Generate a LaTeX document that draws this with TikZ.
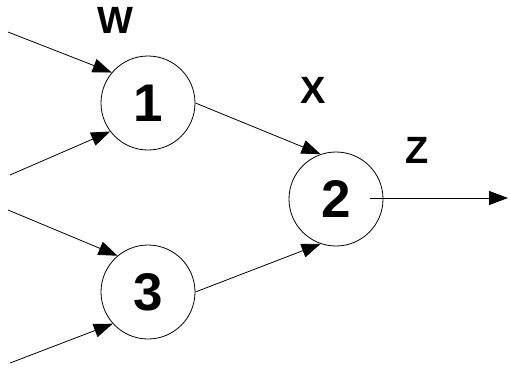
\documentclass[tikz,border=0pt]{standalone}
\usepackage{fontspec}
\setmainfont{Liberation Sans}
\usetikzlibrary{arrows.meta}

\tikzset{
  unit/.style={draw,circle,minimum size=94pt,inner sep=0pt,line width=.8pt,
    font=\fontsize{53}{55}\selectfont\bfseries},
  lbl/.style={font=\fontsize{38}{40}\selectfont\bfseries},
  wire/.style={line width=.8pt,-{Triangle[length=19pt,width=14pt]}}
}

\begin{document}
\begin{tikzpicture}[x=1pt,y=-1pt]
\useasboundingbox (0,0) rectangle (510,369);
% units
\node[unit] (n1) at (148,103) {1};
\node[unit] (n2) at (336,199) {2};
\node[unit] (n3) at (148,292) {3};
% free ends
\coordinate (a1) at (8,32);
\coordinate (a2) at (10,175);
\coordinate (b1) at (8,210);
\coordinate (b2) at (10,363);
\coordinate (zs) at (370,198);
\coordinate (zo) at (508,198);
% inputs
\draw[wire] (a1) -- (n1.140);
\draw[wire] (a2) -- (n1.217);
\draw[wire] (b1) -- (n3.130);
\draw[wire] (b2) -- (n3.222);
% hidden to output
\draw[wire] (n1.0) -- (n2.109);
\draw[wire] (n3.0) -- (n2.251);
\draw[wire] (zs) -- (zo);
% labels
\node[lbl] (w) at (115,20) {W};
\node[lbl] (x) at (313,90) {X};
\node[lbl] (z) at (417,150) {Z};
\end{tikzpicture}
\end{document}
